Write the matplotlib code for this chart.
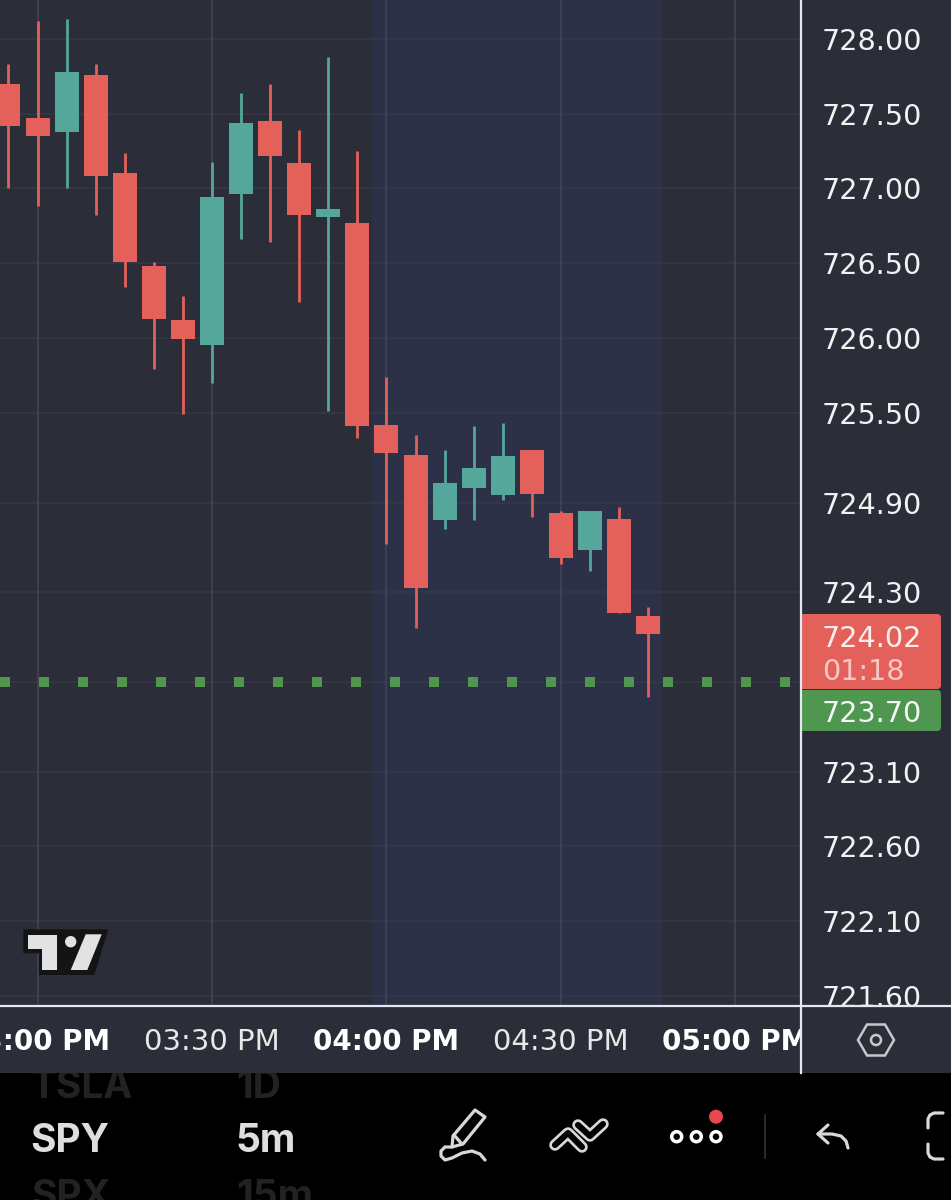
import matplotlib
matplotlib.use('Agg')
import matplotlib.pyplot as plt
from matplotlib.patches import Polygon, Circle, FancyBboxPatch, Rectangle

plt.rcParams['font.family'] = ['DejaVu Sans']

W, H = 951, 1200
BG = '#2b2d38'
BAND = '#2c3147'
GRID = '#363845'
VGRID = '#434551'
RED = '#e4605a'
TEAL = '#55a79c'
GREEN = '#4f9650'
LINE = '#e6e8f0'
ICON = '#d8d8d8'

# candles, index 0 is the left-most one on screen
opens = [727.70, 727.47, 727.38, 727.76, 727.10, 726.48, 726.12, 725.95, 726.96, 727.45, 727.17,
         726.81, 726.77, 725.42, 725.22, 724.78, 725.00, 724.95, 725.25, 724.83, 724.58, 724.79, 724.14]
closes = [727.42, 727.35, 727.78, 727.08, 726.51, 726.13, 725.99, 726.94, 727.44, 727.22, 726.82,
          726.86, 725.41, 725.23, 724.33, 725.03, 725.13, 725.21, 724.96, 724.53, 724.84, 724.16, 724.02]
highs = [727.83, 728.12, 728.13, 727.83, 727.24, 726.51, 726.28, 727.18, 727.64, 727.70, 727.39,
         727.88, 727.25, 725.74, 725.35, 725.25, 725.41, 725.43, 725.25, 724.84, 724.84, 724.87, 724.20]
lows = [727.00, 726.88, 727.00, 726.82, 726.34, 725.79, 725.49, 725.70, 726.66, 726.64, 726.24,
        725.51, 725.33, 724.62, 724.06, 724.72, 724.78, 724.92, 724.80, 724.49, 724.44, 724.16, 723.60]

price_ticks = [728.00, 727.50, 727.00, 726.50, 726.00, 725.50, 724.90, 724.30, 723.10, 722.60, 722.10, 721.60]
time_idx = [1, 7, 13, 19, 25]
time_labels = ['03:00 PM', '03:30 PM', '04:00 PM', '04:30 PM', '05:00 PM']
time_bold = [True, False, True, False, True]
session_start, session_end = 12.5, 22.47
alert_price = 723.70
last_price = 724.02
countdown = '01:18'

XLIM = (-0.292, 27.24)
YLIM = (721.54, 728.26)
PRICE_FS = 20.6


def axes_px(x0, y0, x1, y1):
    # axes from pixel box, y counted from top of image
    return fig.add_axes([x0 / W, 1 - y1 / H, (x1 - x0) / W, (y1 - y0) / H])


fig = plt.figure(figsize=(W / 100, H / 100), dpi=100, facecolor=BG)

# main chart
ax = axes_px(0, 0, 800.5, 1005)
ax.set_facecolor(BG)
ax.set_xlim(XLIM)
ax.set_ylim(YLIM)
ax.axvspan(session_start, session_end, color=BAND, lw=0, zorder=0)
for p in price_ticks + [alert_price]:
    ax.axhline(p, color=GRID, lw=1.1, zorder=1)
for t in time_idx:
    ax.axvline(t, color=VGRID, lw=1.1, zorder=1)
ax.axhline(alert_price, color=GREEN, lw=7.2, linestyle=(0, (1, 2.9)), dash_capstyle='butt', zorder=2)
for i in range(len(opens)):
    c = TEAL if closes[i] >= opens[i] else RED
    ax.vlines(i, lows[i], highs[i], color=c, lw=2.0, zorder=3)
    ax.bar(i, abs(closes[i] - opens[i]), bottom=min(opens[i], closes[i]), width=0.825, color=c, lw=0, zorder=4)
ax.axis('off')
ax.patch.set_visible(True)

# price scale
ax_p = axes_px(802, 0, W, 1005)
ax_p.set_facecolor(BG)
ax_p.set_xlim(802, W)
ax_p.set_ylim(YLIM)
for p in price_ticks:
    ax_p.text(822, p, f'{p:.2f}', color='#f2f2f2', fontsize=PRICE_FS, va='center_baseline', ha='left', clip_on=True)
ax_p.set_xticks([])
ax_p.set_yticks([])
for s in ax_p.spines.values():
    s.set_visible(False)

# time scale
ax_t = axes_px(0, 1006, 800, 1073)
ax_t.set_facecolor(BG)
ax_t.set_xlim(XLIM)
ax_t.set_ylim(0, 1)
for t, lab, b in zip(time_idx, time_labels, time_bold):
    ax_t.text(t, 0.5, lab, color='white' if b else '#e8e8e8', fontsize=20 if b else 21,
              fontweight='bold' if b else 'normal', ha='center', va='center_baseline', clip_on=True)
ax_t.set_xticks([])
ax_t.set_yticks([])
for s in ax_t.spines.values():
    s.set_visible(False)

# bottom black bar, y in image pixels
ax_b = axes_px(0, 1073, W, H)
ax_b.set_facecolor('black')
ax_b.set_xlim(0, W)
ax_b.set_ylim(H, 1073)
ax_b.set_xticks([])
ax_b.set_yticks([])
for s in ax_b.spines.values():
    s.set_visible(False)
for x, y, s, col in [(31, 1083, 'TSLA', '#222222'), (31, 1194, 'SPX', '#222222'),
                     (236, 1083, '1D', '#222222'), (236, 1194, '15m', '#222222'),
                     (30, 1137, 'SPY', '#dedede'), (236, 1137, '5m', '#dedede')]:
    ax_b.text(x, y, s, color=col, family='Inter', fontsize=28, fontweight='bold', ha='left',
              va='center_baseline', clip_on=True)

lw_i = 2.3
# pen
ax_b.add_patch(Polygon([(475, 1110), (485, 1117), (463, 1144), (452, 1147), (453, 1136)], closed=True,
                       fill=False, ec=ICON, lw=lw_i, joinstyle='round'))
ax_b.plot([454, 461], [1135, 1143], color=ICON, lw=lw_i)
ax_b.plot([452, 445, 441, 441, 445, 452, 462, 472, 480, 485],
          [1147, 1147, 1151, 1156, 1160, 1158, 1153, 1151, 1154, 1160], color=ICON, lw=lw_i, solid_capstyle='round')
# layers icon
for pts_x, pts_y in [([555, 568, 582], [1145, 1133, 1147]), ([578, 590, 603], [1125, 1136, 1124])]:
    ax_b.plot(pts_x, pts_y, color=ICON, lw=8.3, solid_capstyle='round', solid_joinstyle='round')
    ax_b.plot(pts_x, pts_y, color='black', lw=4.4, solid_capstyle='round', solid_joinstyle='round')
# more dots
for x in [676.7, 696.3, 716]:
    ax_b.add_patch(Circle((x, 1136.7), 5, fill=False, ec='white', lw=2.5))
ax_b.add_patch(Circle((716, 1116.7), 7, fc='#e5484f', ec='none'))
ax_b.plot([765, 765], [1115, 1158], color='#333333', lw=1.2)
# undo
ax_b.plot([828, 818, 828], [1125, 1134, 1143], color=ICON, lw=lw_i, solid_capstyle='round', solid_joinstyle='round')
ax_b.plot([818, 832, 841, 846, 848], [1134, 1134, 1136, 1141, 1148], color=ICON, lw=lw_i, solid_capstyle='round')
# bracket cut by the screen edge
ax_b.plot([943, 934, 930, 928, 928], [1113, 1113, 1115, 1119, 1128], color=ICON, lw=lw_i, solid_capstyle='round')
ax_b.plot([928, 928, 930, 934, 943], [1144, 1153, 1157, 1159, 1159], color=ICON, lw=lw_i, solid_capstyle='round')

# overlay in image pixels for lines, logo and price tags
ov = fig.add_axes([0, 0, 1, 1], facecolor='none')
ov.set_xlim(0, W)
ov.set_ylim(H, 0)
ov.axis('off')
ov.plot([0, W], [1005.5, 1005.5], color=LINE, lw=1.6)
ov.plot([801, 801], [0, 1073], color=LINE, lw=1.6)

# tags
ov.add_patch(FancyBboxPatch((802, 614), 139, 75, boxstyle='round,pad=0,rounding_size=4', fc=RED, ec='none'))
ov.add_patch(Rectangle((802, 614), 6, 75, fc=RED, ec='none'))
ov.add_patch(FancyBboxPatch((802, 690), 139, 41, boxstyle='round,pad=0,rounding_size=4', fc=GREEN, ec='none'))
ov.add_patch(Rectangle((802, 690), 6, 41, fc=GREEN, ec='none'))
ov.text(822, 636, f'{last_price:.2f}', color='#fbeeee', fontsize=PRICE_FS, va='center_baseline')
ov.text(822, 669, countdown, color='#f6c8c4', fontsize=PRICE_FS, va='center_baseline')
ov.text(822, 711, f'{alert_price:.2f}', color='#f4f8f4', fontsize=PRICE_FS, va='center_baseline')

# settings hexagon
ov.add_patch(Polygon([(858, 1040), (867, 1024.5), (885, 1024.5), (894, 1040), (885, 1055.5), (867, 1055.5)],
                     closed=True, fill=False, ec='#c8c8cc', lw=1.8))
ov.add_patch(Circle((876, 1040), 5, fill=False, ec='#c8c8cc', lw=1.8))

# logo
ov.add_patch(Polygon([(23.3, 929.3), (108.3, 929.3), (94.3, 975), (39, 975), (39, 953.3), (23.3, 953.3)],
                     fc='#141414', ec='none'))
ov.add_patch(Polygon([(28.3, 935), (57.3, 935), (57.3, 970), (41.7, 970), (41.7, 949.3), (28.3, 949.3)],
                     fc='#e2e2e2', ec='none'))
ov.add_patch(Circle((70.7, 941.7), 5.7, fc='#e2e2e2', ec='none'))
ov.add_patch(Polygon([(85.7, 934.3), (101.7, 934.3), (87.3, 970), (70.7, 970)], fc='#e2e2e2', ec='none'))

fig.savefig('out.png', dpi=100, facecolor=fig.get_facecolor())
